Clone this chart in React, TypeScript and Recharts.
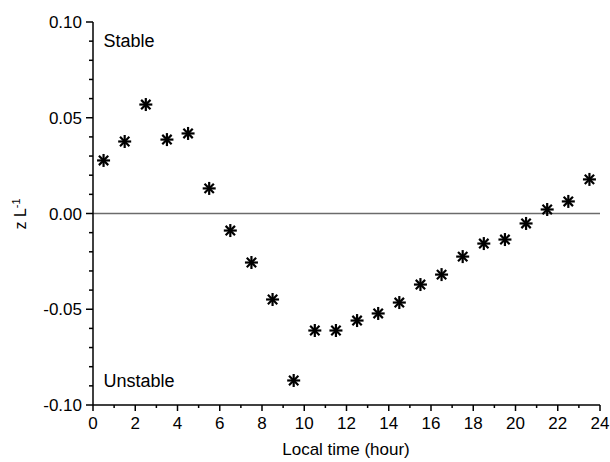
import React from "react";
import { ScatterChart, Scatter, XAxis, YAxis, ReferenceLine, ReferenceDot, Label } from "recharts";

const hours = [0.5, 1.5, 2.5, 3.5, 4.5, 5.5, 6.5, 7.5, 8.5, 9.5, 10.5, 11.5, 12.5, 13.5, 14.5, 15.5, 16.5, 17.5, 18.5, 19.5, 20.5, 21.5, 22.5, 23.5];
const zL = [0.0277, 0.0376, 0.0569, 0.0386, 0.0418, 0.0131, -0.0089, -0.0256, -0.0449, -0.0872, -0.0611, -0.0611, -0.0559, -0.0522, -0.0465, -0.0371, -0.0319, -0.0225, -0.0157, -0.0136, -0.0052, 0.0021, 0.0063, 0.0178];
const xTicks = Array.from({ length: 25 }, (_, i) => i);
const yTicks = [-0.1, -0.09, -0.08, -0.07, -0.06, -0.05, -0.04, -0.03, -0.02, -0.01, 0, 0.01, 0.02, 0.03, 0.04, 0.05, 0.06, 0.07, 0.08, 0.09, 0.1];

const data = hours.map((h, i) => ({ x: h, y: zL[i] }));

const FONT = "Liberation Sans, Arial, sans-serif";

// asterisk marker like the original plot
const Star = (props: any) => {
    const { cx, cy } = props;
    const r = 6.5;
    const d = r * 0.72;
    return (
        <g stroke="#000" strokeWidth={2.2}>
            <line x1={cx - r} y1={cy} x2={cx + r} y2={cy} />
            <line x1={cx} y1={cy - r} x2={cx} y2={cy + r} />
            <line x1={cx - d} y1={cy - d} x2={cx + d} y2={cy + d} />
            <line x1={cx - d} y1={cy + d} x2={cx + d} y2={cy - d} />
        </g>
    );
};

const XTick = (props: any) => {
    const { x, y, payload } = props;
    const major = payload.value % 2 === 0;
    return (
        <g>
            <line x1={x} y1={y} x2={x} y2={y + (major ? 6 : 3)} stroke="#000" strokeWidth={1.5} />
            {major && (
                <text x={x} y={y + 24} textAnchor="middle" fontSize={17} fontFamily={FONT} fill="#000">
                    {payload.value}
                </text>
            )}
        </g>
    );
};

const YTick = (props: any) => {
    const { x, y, payload } = props;
    const major = Math.round(payload.value * 100) % 5 === 0;
    return (
        <g>
            <line x1={x} y1={y} x2={x - (major ? 7 : 4)} y2={y} stroke="#000" strokeWidth={1.5} />
            {major && (
                <text x={x - 11} y={y + 6} textAnchor="end" fontSize={17} fontFamily={FONT} fill="#000">
                    {payload.value.toFixed(2)}
                </text>
            )}
        </g>
    );
};

const NoteText = (text: string) => (props: any) => (
    <text x={props.cx} y={props.cy} fontSize={18} fontFamily={FONT} fill="#000">
        {text}
    </text>
);

export default function App() {
    return (
        <div style={{ position: "absolute", left: 0, top: 0, background: "#fff" }}>
            <ScatterChart width={610} height={462} margin={{ top: 22, right: 10, left: 0, bottom: 0 }}>
                <XAxis
                    type="number"
                    dataKey="x"
                    domain={[0, 24]}
                    ticks={xTicks}
                    interval={0}
                    height={57}
                    tickSize={0}
                    tickMargin={0}
                    tickLine={false}
                    tick={<XTick />}
                    axisLine={{ stroke: "#000", strokeWidth: 1.5 }}
                >
                    <Label
                        content={() => (
                            <text x={346} y={455} textAnchor="middle" fontSize={17} fontFamily={FONT} fill="#000">
                                Local time (hour)
                            </text>
                        )}
                    />
                </XAxis>
                <YAxis
                    type="number"
                    dataKey="y"
                    domain={[-0.1, 0.1]}
                    ticks={yTicks}
                    interval={0}
                    width={93}
                    tickSize={0}
                    tickMargin={0}
                    tickLine={false}
                    tick={<YTick />}
                    axisLine={{ stroke: "#000", strokeWidth: 1.5 }}
                >
                    <Label
                        content={() => (
                            <text transform="translate(26,214) rotate(-90)" textAnchor="middle" fontSize={16} fontFamily={FONT} style={{ fill: "#000" }}>
                                z L<tspan dy={-6} fontSize={11} style={{ fill: "#000" }}>-1</tspan>
                            </text>
                        )}
                    />
                </YAxis>
                <ReferenceLine y={0} stroke="#6b6b6b" strokeWidth={1.5} />
                <ReferenceDot x={0.5} y={0.087} r={0} shape={NoteText("Stable")} />
                <ReferenceDot x={0.5} y={-0.0905} r={0} shape={NoteText("Unstable")} />
                <Scatter data={data} shape={<Star />} isAnimationActive={false} />
            </ScatterChart>
        </div>
    );
}
